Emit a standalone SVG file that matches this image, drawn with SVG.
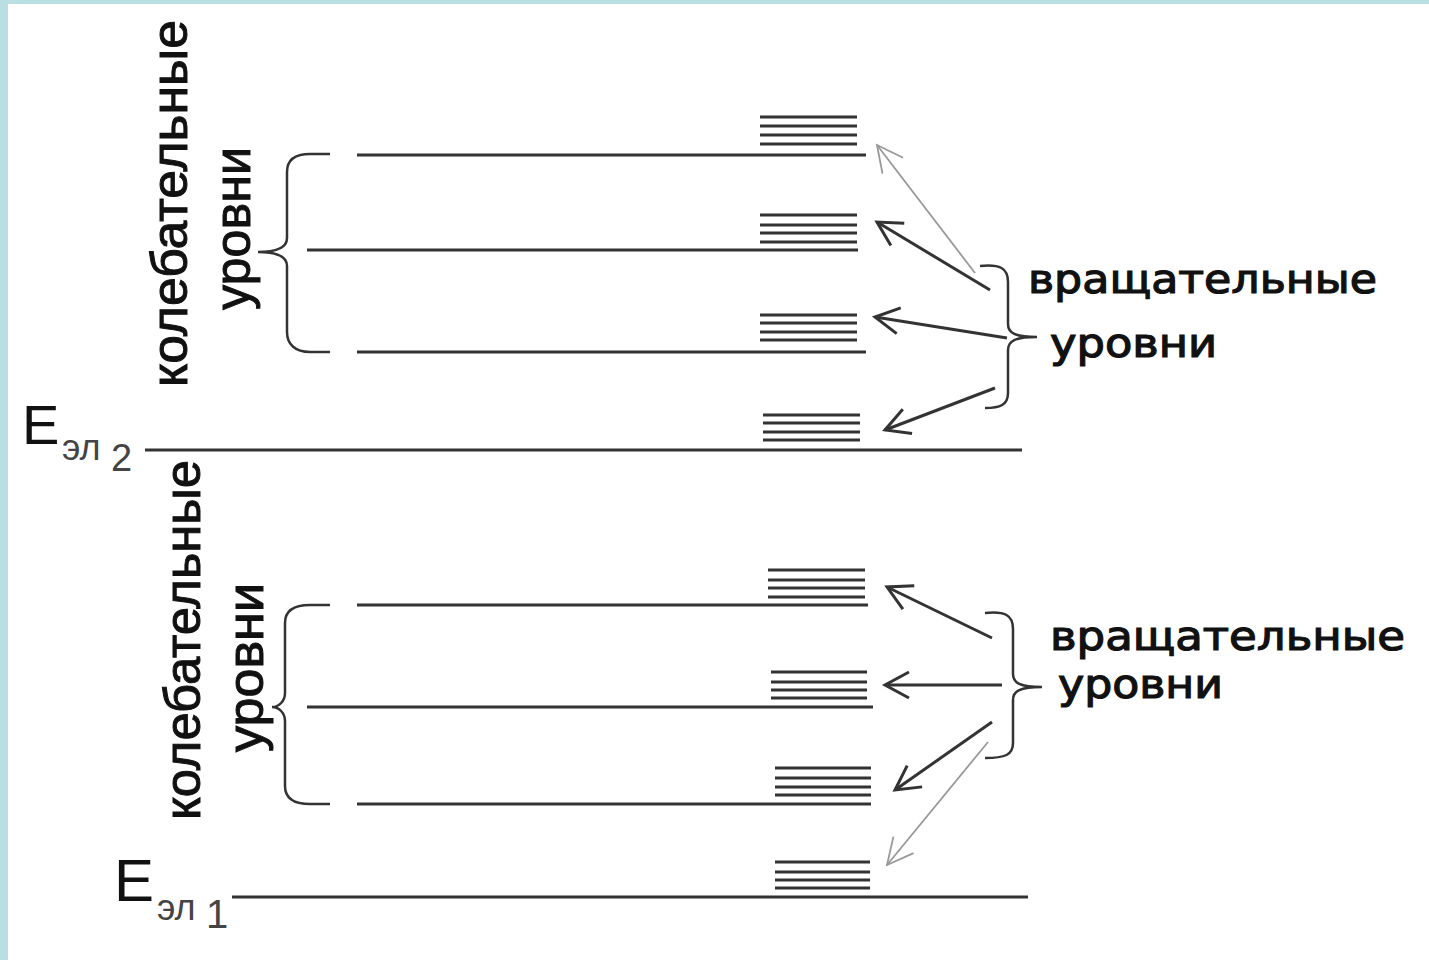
<svg xmlns="http://www.w3.org/2000/svg" width="1429" height="960" viewBox="0 0 1429 960">
<defs>
<style>
.lvl{stroke:#333;stroke-width:3;fill:none}
.rot{stroke:#333;stroke-width:3;fill:none}
.br{stroke:#333;stroke-width:2.5;fill:none}
.ar{stroke:#333;stroke-width:3;fill:none}
.arl{stroke:#999;stroke-width:1.8;fill:none}
.lbl{font-family:"DejaVu Sans",Verdana,sans-serif;font-size:40px;fill:#111;stroke:#111;stroke-width:1.2}
.vib{font-family:"Liberation Sans",Arial,sans-serif;font-size:50px;fill:#111;stroke:#111;stroke-width:1}
.e{font-family:"Liberation Sans",Arial,sans-serif;fill:#111}
.sub{font-family:"Liberation Sans",Arial,sans-serif;fill:#444}
</style>
<marker id="hd" markerUnits="userSpaceOnUse" markerWidth="40" markerHeight="40" refX="0" refY="0" viewBox="-30 -20 40 40" orient="auto">
<path d="M-24,-13 L0,0 L-24,13" fill="none" stroke="#333" stroke-width="3"/>
</marker>
<marker id="hdl" markerUnits="userSpaceOnUse" markerWidth="40" markerHeight="40" refX="0" refY="0" viewBox="-30 -20 40 40" orient="auto">
<path d="M-26,-13 L0,0 L-26,13" fill="none" stroke="#999" stroke-width="1.8"/>
</marker>
</defs>
<rect width="1429" height="960" fill="#fff"/>
<rect x="0" y="0" width="8" height="960" fill="#b9dfe2"/>
<rect x="0" y="0" width="1429" height="4" fill="#b9dfe2"/>

<g id="upper-state">
<line class="lvl" x1="357" y1="155" x2="866" y2="155"/>
<line class="lvl" x1="307" y1="250" x2="858" y2="250"/>
<line class="lvl" x1="357" y1="352" x2="866" y2="352"/>
<line class="lvl" x1="145" y1="450" x2="1022" y2="450"/>
<path class="rot" d="M760,117H857M760,126H857M760,135H857M760,144H857"/>
<path class="rot" d="M760,215H857M760,225H857M760,233H857M760,242H857"/>
<path class="rot" d="M760,315H857M760,323H857M760,332H857M760,340H857"/>
<path class="rot" d="M763,415H860M763,423H860M763,432H860M763,440H860"/>
</g>

<g id="lower-state">
<line class="lvl" x1="357" y1="605" x2="868" y2="605"/>
<line class="lvl" x1="307" y1="707" x2="873" y2="707"/>
<line class="lvl" x1="357" y1="804" x2="871" y2="804"/>
<line class="lvl" x1="232" y1="897" x2="1028" y2="897"/>
<path class="rot" d="M768,570H865M768,580H865M768,588H865M768,597H865"/>
<path class="rot" d="M771,672H867M771,682H867M771,690H867M771,698H867"/>
<path class="rot" d="M775,768H871M775,778H871M775,787H871M775,795H871"/>
<path class="rot" d="M775,862H870M775,872H870M775,880H870M775,888H870"/>
</g>

<g id="braces">
<path class="br" d="M330,154 L310,154 C295,154 287,160 287,172 L287,238 C287,246 280,252 258,252 C280,252 287,258 287,266 L287,332 C287,344 295,352 310,352 L330,352"/>
<path class="br" d="M330,605 L310,605 C294,605 285,611 285,623 L285,693 C285,701 279,707 272,707 C279,707 285,713 285,721 L285,786 C285,798 294,804 310,804 L330,804"/>
<path class="br" d="M980,266 C1000,264 1008,268 1008,282 L1008,324 C1008,333 1015,337 1037,337 C1015,337 1008,341 1008,350 L1008,393 C1008,405 1000,408 985,408"/>
<path class="br" d="M985,613 C1005,611 1013,615 1013,629 L1013,674 C1013,683 1020,687 1042,687 C1020,687 1013,691 1013,700 L1013,743 C1013,755 1005,758 985,758"/>
</g>

<g id="connectors">
<line class="arl" x1="975" y1="273" x2="877" y2="145" marker-end="url(#hdl)"/>
<line class="ar" x1="990" y1="290" x2="877" y2="222" marker-end="url(#hd)"/>
<line class="ar" x1="1007" y1="338" x2="875" y2="317" marker-end="url(#hd)"/>
<line class="ar" x1="995" y1="388" x2="885" y2="430" marker-end="url(#hd)"/>
<line class="ar" x1="992" y1="638" x2="887" y2="587" marker-end="url(#hd)"/>
<line class="ar" x1="1002" y1="685" x2="885" y2="685" marker-end="url(#hd)"/>
<line class="ar" x1="992" y1="722" x2="895" y2="790" marker-end="url(#hd)"/>
<line class="arl" x1="988" y1="742" x2="887" y2="865" marker-end="url(#hdl)"/>
</g>

<g id="labels">
<text class="vib" transform="translate(187,387) rotate(-90)" textLength="367" lengthAdjust="spacingAndGlyphs">колебательные</text>
<text class="vib" transform="translate(250,310) rotate(-90)" textLength="163" lengthAdjust="spacingAndGlyphs">уровни</text>
<text class="vib" transform="translate(200,820) rotate(-90)" textLength="360" lengthAdjust="spacingAndGlyphs">колебательные</text>
<text class="vib" transform="translate(263,752) rotate(-90)" textLength="169" lengthAdjust="spacingAndGlyphs">уровни</text>
<text class="lbl" x="1028" y="293" textLength="349" lengthAdjust="spacingAndGlyphs">вращательные</text>
<text class="lbl" x="1050" y="357" textLength="167" lengthAdjust="spacingAndGlyphs">уровни</text>
<text class="lbl" x="1050" y="650" textLength="355" lengthAdjust="spacingAndGlyphs">вращательные</text>
<text class="lbl" x="1058" y="698" textLength="165" lengthAdjust="spacingAndGlyphs">уровни</text>
<text class="e" x="22" y="444" font-size="56">E</text>
<text class="sub" x="62" y="460" font-size="36">эл</text>
<text class="sub" x="111" y="471" font-size="38">2</text>
<text class="e" x="114" y="901" font-size="60">E</text>
<text class="sub" x="157" y="920" font-size="36">эл</text>
<text class="sub" x="206" y="928" font-size="40">1</text>
</g>
</svg>
